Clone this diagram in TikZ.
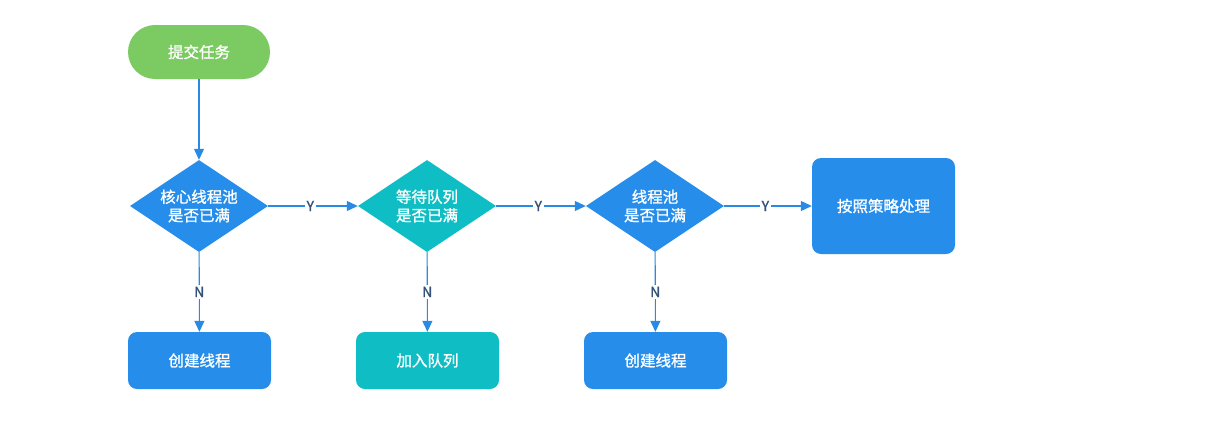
\documentclass[tikz,border=0pt]{standalone}
\usepackage{fontspec}
\setmainfont{Noto Sans CJK SC}
\newfontfamily\boldcjk[FakeBold=1.2]{Noto Sans CJK SC}
\usetikzlibrary{shapes.geometric,arrows.meta}
\definecolor{cblue}{RGB}{38,141,234}
\definecolor{cteal}{RGB}{14,190,196}
\definecolor{cgreen}{RGB}{124,203,98}
\definecolor{cline}{RGB}{40,138,228}
\definecolor{clabel}{RGB}{50,80,120}
\begin{document}
\begin{tikzpicture}[x=1pt,y=-1pt,
  txt/.style={text=white,font=\boldcjk\fontsize{15.5pt}{18.5pt}\selectfont,align=center},
  pill/.style={txt,fill=cgreen,rounded corners=27pt,minimum width=142pt,minimum height=54pt,inner sep=0pt},
  dia/.style={txt,diamond,aspect=1.5,inner sep=0pt,minimum width=138pt,minimum height=92pt},
  boxr/.style={txt,rounded corners=9pt,minimum width=143pt,minimum height=57pt,inner sep=0pt},
  conn/.style={draw=cline,line width=1.1pt,-{Triangle[length=11pt,width=10pt]}},
  lbl/.style={fill=white,text=clabel,font=\boldcjk\fontsize{14pt}{15pt}\selectfont,inner sep=1.5pt}
]
\useasboundingbox (0,0) rectangle (1207,437);
\fill[white] (0,0) rectangle (1207,437);

\node[pill] (start) at (199,52) {提交任务};
\node[dia,fill=cblue] (d1) at (199,206) {核心线程池\\是否已满};
\node[dia,fill=cteal] (d2) at (427,206) {等待队列\\是否已满};
\node[dia,fill=cblue] (d3) at (655,206) {线程池\\是否已满};
\node[boxr,fill=cblue,minimum height=96pt] (pol) at (883.5,206) {按照策略处理};
\node[boxr,fill=cblue] (b1) at (199.5,360.5) {创建线程};
\node[boxr,fill=cteal] (b2) at (427.5,360.5) {加入队列};
\node[boxr,fill=cblue] (b3) at (655.5,360.5) {创建线程};

\draw[conn] (start) -- (d1);
\draw[conn] (d1) -- node[lbl,pos=0.47] {Y} (d2);
\draw[conn] (d2) -- node[lbl,pos=0.47] {Y} (d3);
\draw[conn] (d3) -- node[lbl,pos=0.47] {Y} (pol);
\draw[conn] (d1) -- node[lbl,pos=0.5] {N} (b1);
\draw[conn] (d2) -- node[lbl,pos=0.5] {N} (b2);
\draw[conn] (d3) -- node[lbl,pos=0.5] {N} (b3);
\end{tikzpicture}
\end{document}
